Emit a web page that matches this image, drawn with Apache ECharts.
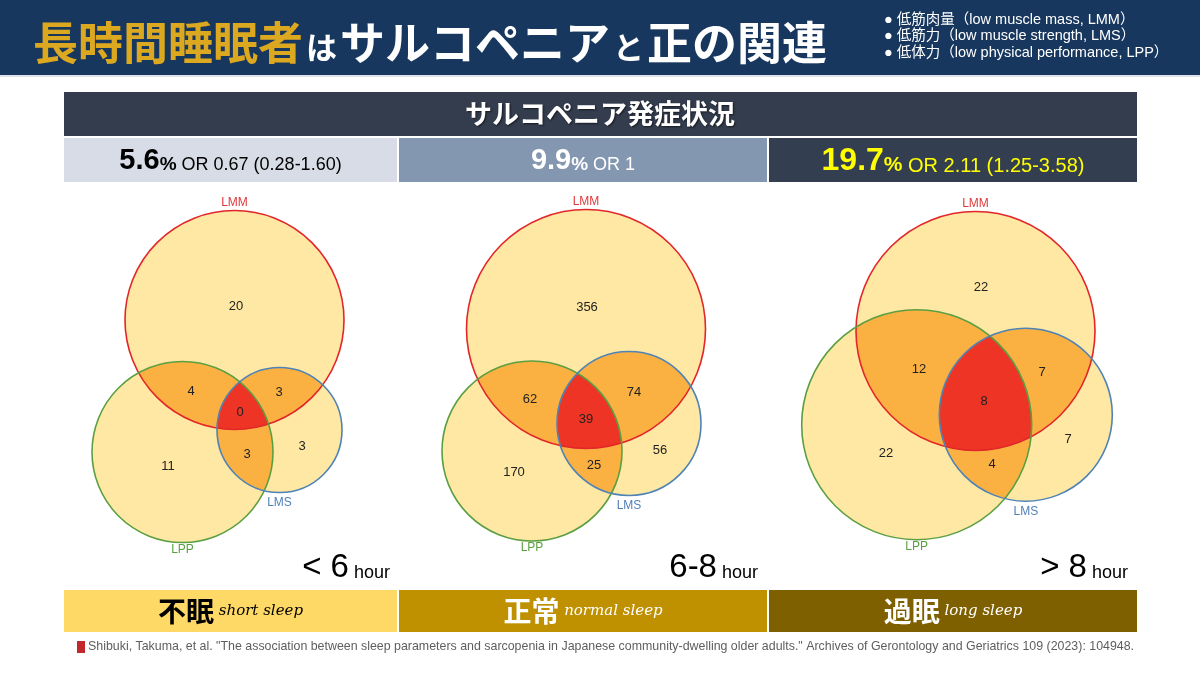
<!DOCTYPE html>
<html lang="ja">
  <head>
    <meta charset="UTF-8" />
    <title>長時間睡眠者はサルコペニアと正の関連</title>
    <script src="https://cdn.jsdelivr.net/npm/echarts@6.0.0/dist/echarts.min.js"></script>
    <style>
      html, body { margin: 0; padding: 0; background: #fff; }
      #main { width: 1200px; height: 675px; }
    </style>
  </head>
  <body>
    <div id="main"></div>
    <script>
      // 睡眠時間グループ
      var groups = ["< 6", "6-8", "> 8"];
      var sleepJa = ["不眠", "正常", "過眠"];
      var sleepEn = ["short sleep", "normal sleep", "long sleep"];
      // サルコペニア発症率(%) と OR
      var prevalence = ["5.6", "9.9", "19.7"];
      var oddsRatio = ["0.67 (0.28-1.60)", "1", "2.11 (1.25-3.58)"];

      // ベン図の円 [cx, cy, r]（ページ座標の単位）
      var lmmCircle = [[234.5, 320, 109.5], [586, 329, 119.5], [975.5, 331, 119.5]];
      var lppCircle = [[182.5, 452, 90.5], [532, 451, 90], [916.7, 424.7, 115]];
      var lmsCircle = [[279.5, 430, 62.5], [629, 423.5, 72], [1025.8, 414.7, 86.5]];

      // 各領域の人数
      var lmmOnly = [20, 356, 22];
      var lmmLpp = [4, 62, 12];
      var lmmLms = [3, 74, 7];
      var allThree = [0, 39, 8];
      var lppLms = [3, 25, 4];
      var lmsOnly = [3, 56, 7];
      var lppOnly = [11, 170, 22];

      // 数字ラベルの位置（上の順番と同じ）
      var labelPos = [
        [[236, 306], [191, 391], [279, 392], [240, 412], [247, 454], [302, 446], [168, 466]],
        [[587, 307], [530, 399], [634, 392], [586, 419], [594, 465], [660, 450], [514, 472]],
        [[981, 287], [919, 369], [1042, 372], [984, 401], [992, 464], [1068, 439], [886, 453]]
      ];

      var YELLOW = "#fee8a3";
      var ORANGE = "#fbb142";
      var RED = "#ee3525";
      var SANS = "'Liberation Sans', 'Noto Sans CJK JP', sans-serif";
      var CJK = "'Noto Sans CJK JP', 'Liberation Sans', sans-serif";

      var cellX = [64, 399, 769];
      var cellW = [333, 368, 368];
      var cellBg = ["#d7dce6", "#8497b0", "#333e50"];
      var cellText = ["#000", "#fff", "#ffff00"];
      var barBg = ["#ffd966", "#bf9000", "#7f6000"];
      var barText = ["#000", "#fff", "#fff"];
      var hourRight = [390, 758, 1128];

      function renderVenn(params, api) {
        var i = params.dataIndex;
        function circ(c) {
          var p = api.coord([c[0], c[1]]);
          return { cx: p[0], cy: p[1], r: api.size([c[2], 0])[0] };
        }
        var A = circ(lmmCircle[i]);
        var B = circ(lppCircle[i]);
        var C = circ(lmsCircle[i]);
        var children = [];
        [A, B, C].forEach(function (s) {
          children.push({ type: "circle", shape: s, style: { fill: YELLOW } });
        });
        [[A, B], [A, C], [B, C]].forEach(function (p) {
          children.push({
            type: "circle",
            shape: p[0],
            style: { fill: ORANGE },
            clipPath: { type: "circle", shape: p[1] }
          });
        });
        children.push({
          type: "group",
          clipPath: { type: "circle", shape: C },
          children: [
            {
              type: "circle",
              shape: A,
              style: { fill: RED },
              clipPath: { type: "circle", shape: B }
            }
          ]
        });
        var strokes = [[A, "#e2262a"], [B, "#5b9f42"], [C, "#4f83b6"]];
        strokes.forEach(function (s) {
          children.push({
            type: "circle",
            shape: s[0],
            style: { fill: null, stroke: s[1], lineWidth: 1.6 }
          });
        });
        // 集合名
        var names = [
          ["LMM", A.cx, A.cy - A.r - 8, "#e0383a"],
          ["LPP", B.cx, B.cy + B.r + 7, "#5b9f42"],
          ["LMS", C.cx, C.cy + C.r + 10, "#4f7fb8"]
        ];
        names.forEach(function (n) {
          children.push({
            type: "text",
            x: n[1],
            y: n[2],
            style: { text: n[0], fill: n[3], font: "12px " + SANS, align: "center", verticalAlign: "middle" }
          });
        });
        var counts = [lmmOnly[i], lmmLpp[i], lmmLms[i], allThree[i], lppLms[i], lmsOnly[i], lppOnly[i]];
        counts.forEach(function (v, k) {
          var p = api.coord(labelPos[i][k]);
          children.push({
            type: "text",
            x: p[0],
            y: p[1],
            style: { text: String(v), fill: "#222", font: "13px " + SANS, align: "center", verticalAlign: "middle" }
          });
        });
        return { type: "group", children: children };
      }

      var graphics = [
        { type: "rect", shape: { x: 0, y: 0, width: 1200, height: 75 }, style: { fill: "#17375e" } },
        { type: "rect", shape: { x: 0, y: 75, width: 1200, height: 2 }, style: { fill: "#dfe4ec" } },
        {
          type: "text",
          x: 33,
          y: 43,
          style: {
            text: "{y|長時間睡眠者}{s|は}{w|サルコペニア}{s|と}{w|正の関連}",
            verticalAlign: "middle",
            rich: {
              y: { fontSize: 45, fontWeight: "bold", fontFamily: CJK, fill: "#dca81f", verticalAlign: "bottom" },
              s: { fontSize: 31, fontWeight: "bold", fontFamily: CJK, fill: "#fff", verticalAlign: "bottom", padding: [0, 3, 3, 3] },
              w: { fontSize: 45, fontWeight: "bold", fontFamily: CJK, fill: "#fff", verticalAlign: "bottom" }
            }
          }
        },
        {
          type: "text",
          x: 884,
          y: 36,
          style: {
            text: "● 低筋肉量（low muscle mass, LMM）\n● 低筋力（low muscle strength, LMS）\n● 低体力（low physical performance, LPP）",
            font: "14.5px " + SANS,
            lineHeight: 16.5,
            fill: "#fff",
            verticalAlign: "middle"
          }
        },
        { type: "rect", shape: { x: 64, y: 92, width: 1073, height: 44 }, style: { fill: "#343d4e" } },
        {
          type: "text",
          x: 600,
          y: 114,
          style: {
            text: "サルコペニア発症状況",
            font: "bold 27px " + CJK,
            fill: "#fff",
            align: "center",
            verticalAlign: "middle",
            textShadowColor: "rgba(0,0,0,0.6)",
            textShadowBlur: 2,
            textShadowOffsetX: 1,
            textShadowOffsetY: 1
          }
        },
        {
          type: "text",
          x: 88,
          y: 647,
          style: {
            text: "Shibuki, Takuma, et al. \"The association between sleep parameters and sarcopenia in Japanese community-dwelling older adults.\" Archives of Gerontology and Geriatrics 109 (2023): 104948.",
            font: "12.4px " + SANS,
            fill: "#5e5e5e",
            verticalAlign: "middle"
          }
        },
        { type: "rect", shape: { x: 77, y: 641, width: 8, height: 12 }, style: { fill: "#c0282a" } }
      ];

      groups.forEach(function (g, i) {
        var cx = cellX[i] + cellW[i] / 2;
        var big = i === 2 ? 32 : 29;
        var small = i === 2 ? 20 : 18;
        graphics.push({ type: "rect", shape: { x: cellX[i], y: 138, width: cellW[i], height: 44 }, style: { fill: cellBg[i] } });
        graphics.push({
          type: "text",
          x: cx,
          y: 161,
          style: {
            text: "{b|" + prevalence[i] + "}{p|%}{o| OR " + oddsRatio[i] + "}",
            align: "center",
            verticalAlign: "middle",
            rich: {
              b: { fontSize: big, fontWeight: "bold", fontFamily: SANS, fill: cellText[i], verticalAlign: "bottom" },
              p: { fontSize: small + 1, fontWeight: "bold", fontFamily: SANS, fill: cellText[i], verticalAlign: "bottom", padding: [0, 0, 1, 0] },
              o: { fontSize: small, fontFamily: SANS, fill: cellText[i], verticalAlign: "bottom", padding: [0, 0, 1, 0] }
            }
          }
        });
        graphics.push({ type: "rect", shape: { x: cellX[i], y: 590, width: cellW[i], height: 42 }, style: { fill: barBg[i] } });
        graphics.push({
          type: "text",
          x: cx,
          y: 611,
          style: {
            text: "{j|" + sleepJa[i] + "}{e| " + sleepEn[i] + "}",
            align: "center",
            verticalAlign: "middle",
            rich: {
              j: { fontSize: 28, fontWeight: "bold", fontFamily: CJK, fill: barText[i], verticalAlign: "bottom" },
              e: { fontSize: 15, fontStyle: "italic", fontFamily: "'DejaVu Serif', serif", fill: barText[i], verticalAlign: "bottom", padding: [0, 0, 6, 0] }
            }
          }
        });
        graphics.push({
          type: "text",
          x: hourRight[i],
          y: 584,
          style: {
            text: "{h|" + g + "}{u| hour}",
            align: "right",
            verticalAlign: "bottom",
            rich: {
              h: { fontSize: 33, fontFamily: SANS, fill: "#000", verticalAlign: "bottom" },
              u: { fontSize: 18, fontFamily: SANS, fill: "#000", verticalAlign: "bottom", padding: [0, 0, 2, 0] }
            }
          }
        });
      });

      var myChart = echarts.init(document.getElementById("main"));
      var option = {
        animation: false,
        grid: { left: 0, right: 0, top: 0, bottom: 0 },
        xAxis: { type: "value", min: 0, max: 1200, show: false },
        yAxis: { type: "value", min: 0, max: 675, inverse: true, show: false },
        graphic: graphics,
        series: [
          {
            type: "custom",
            coordinateSystem: "cartesian2d",
            clip: false,
            data: groups.map(function (g, i) { return [i]; }),
            renderItem: renderVenn,
            z: 5
          }
        ]
      };
      myChart.setOption(option);
    </script>
  </body>
</html>
